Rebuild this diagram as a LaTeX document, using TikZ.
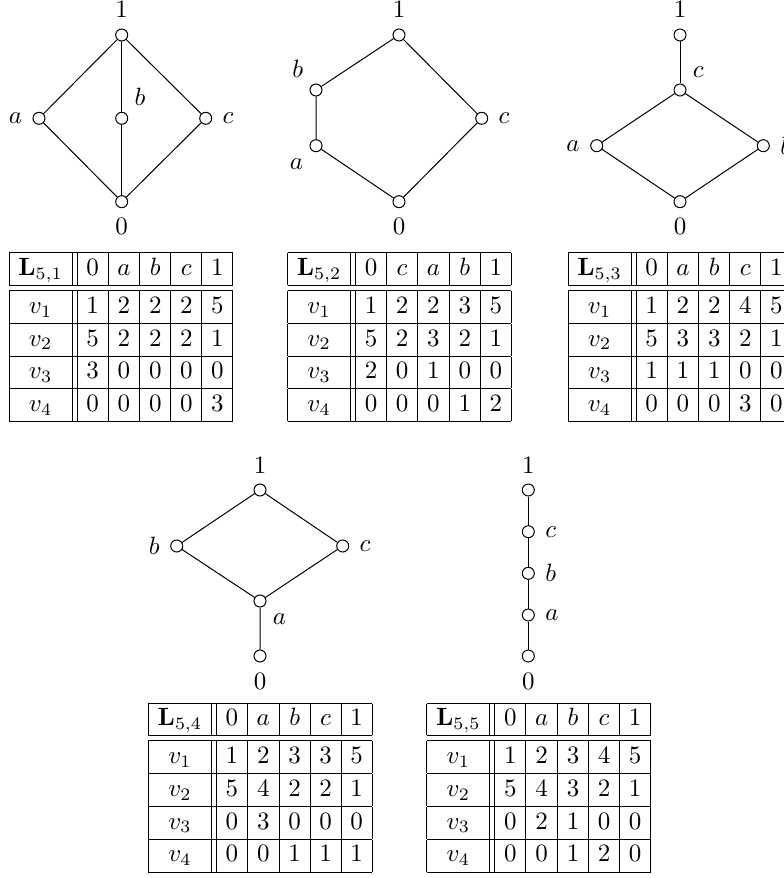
\documentclass[tikz,border=0pt]{standalone}
\usepackage{amsmath}
\usepackage{tikz}
\renewcommand{\arraystretch}{1.06}
\setlength{\tabcolsep}{3.7pt}

\begin{document}
\begin{tikzpicture}[x=0.4pt, y=-0.4pt,
  vtx/.style={circle, draw, fill=white, inner sep=0pt, minimum size=4.8pt},
  every label/.style={inner sep=1pt},
  label distance=3pt,
  tab/.style={anchor=north, inner sep=0pt},
]
\useasboundingbox (0,0) rectangle (784,878);

% L_{5,1}
\node[vtx, label=above:$1$] (one1) at (121.7,35) {};
\node[vtx, label=left:$a$] (a1) at (39,118.3) {};
\node[vtx, label=above right:$b$] (b1) at (121.7,118.3) {};
\node[vtx, label=right:$c$] (c1) at (205.7,118.3) {};
\node[vtx, label=below:$0$] (zero1) at (121.7,201.7) {};
\draw (zero1) -- (a1) -- (one1) -- (c1) -- (zero1);
\draw (zero1) -- (b1) -- (one1);

\node[tab] (tab1) at (121,251.7) {\begin{tabular}{|c||c|c|c|c|c|}
  \hline
  $\mathbf{L}_{5,1}$ & $0$ & $a$ & $b$ & $c$ & $1$ \\
  \hline\hline
  $v_1$ & 1 & 2 & 2 & 2 & 5 \\ \hline
  $v_2$ & 5 & 2 & 2 & 2 & 1 \\ \hline
  $v_3$ & 3 & 0 & 0 & 0 & 0 \\ \hline
  $v_4$ & 0 & 0 & 0 & 0 & 3 \\ \hline
\end{tabular}};

% L_{5,2}
\node[vtx, label=above:$1$] (one2) at (399,35) {};
\node[vtx, label=above left:$b$] (b2) at (316,90) {};
\node[vtx, label=below left:$a$] (a2) at (316,145.7) {};
\node[vtx, label=right:$c$] (c2) at (481.7,118.3) {};
\node[vtx, label=below:$0$] (zero2) at (399,201.7) {};
\draw (zero2) -- (a2) -- (b2) -- (one2) -- (c2) -- (zero2);

\node[tab] (tab2) at (399.5,251.7) {\begin{tabular}{|c||c|c|c|c|c|}
  \hline
  $\mathbf{L}_{5,2}$ & $0$ & $c$ & $a$ & $b$ & $1$ \\
  \hline\hline
  $v_1$ & 1 & 2 & 2 & 3 & 5 \\ \hline
  $v_2$ & 5 & 2 & 3 & 2 & 1 \\ \hline
  $v_3$ & 2 & 0 & 1 & 0 & 0 \\ \hline
  $v_4$ & 0 & 0 & 0 & 1 & 2 \\ \hline
\end{tabular}};

% L_{5,3}
\node[vtx, label=above:$1$] (one3) at (680,35) {};
\node[vtx, label=above right:$c$] (c3) at (680,90) {};
\node[vtx, label=left:$a$] (a3) at (596.7,145.7) {};
\node[vtx, label=right:$b$] (b3) at (763.3,145.7) {};
\node[vtx, label=below:$0$] (zero3) at (680,201.7) {};
\draw (zero3) -- (a3) -- (c3) -- (b3) -- (zero3);
\draw (c3) -- (one3);

\node[tab] (tab3) at (680,251.7) {\begin{tabular}{|c||c|c|c|c|c|}
  \hline
  $\mathbf{L}_{5,3}$ & $0$ & $a$ & $b$ & $c$ & $1$ \\
  \hline\hline
  $v_1$ & 1 & 2 & 2 & 4 & 5 \\ \hline
  $v_2$ & 5 & 3 & 3 & 2 & 1 \\ \hline
  $v_3$ & 1 & 1 & 1 & 0 & 0 \\ \hline
  $v_4$ & 0 & 0 & 0 & 3 & 0 \\ \hline
\end{tabular}};

% L_{5,4}
\node[vtx, label=above:$1$] (one4) at (260,490) {};
\node[vtx, label=left:$b$] (b4) at (176.7,546) {};
\node[vtx, label=right:$c$] (c4) at (342.7,546) {};
\node[vtx, label=below right:$a$] (a4) at (260,601) {};
\node[vtx, label=below:$0$] (zero4) at (260,656) {};
\draw (zero4) -- (a4) -- (b4) -- (one4) -- (c4) -- (a4);

\node[tab] (tab4) at (260.3,702) {\begin{tabular}{|c||c|c|c|c|c|}
  \hline
  $\mathbf{L}_{5,4}$ & $0$ & $a$ & $b$ & $c$ & $1$ \\
  \hline\hline
  $v_1$ & 1 & 2 & 3 & 3 & 5 \\ \hline
  $v_2$ & 5 & 4 & 2 & 2 & 1 \\ \hline
  $v_3$ & 0 & 3 & 0 & 0 & 0 \\ \hline
  $v_4$ & 0 & 0 & 1 & 1 & 1 \\ \hline
\end{tabular}};

% L_{5,5}
\node[vtx, label=above:$1$] (one5) at (528.3,490) {};
\node[vtx, label=right:$c$] (c5) at (528.3,531.7) {};
\node[vtx, label=right:$b$] (b5) at (528.3,573.3) {};
\node[vtx, label=right:$a$] (a5) at (528.3,615) {};
\node[vtx, label=below:$0$] (zero5) at (528.3,656) {};
\draw (zero5) -- (a5) -- (b5) -- (c5) -- (one5);

\node[tab] (tab5) at (538.7,702) {\begin{tabular}{|c||c|c|c|c|c|}
  \hline
  $\mathbf{L}_{5,5}$ & $0$ & $a$ & $b$ & $c$ & $1$ \\
  \hline\hline
  $v_1$ & 1 & 2 & 3 & 4 & 5 \\ \hline
  $v_2$ & 5 & 4 & 3 & 2 & 1 \\ \hline
  $v_3$ & 0 & 2 & 1 & 0 & 0 \\ \hline
  $v_4$ & 0 & 0 & 1 & 2 & 0 \\ \hline
\end{tabular}};
\end{tikzpicture}
\end{document}
